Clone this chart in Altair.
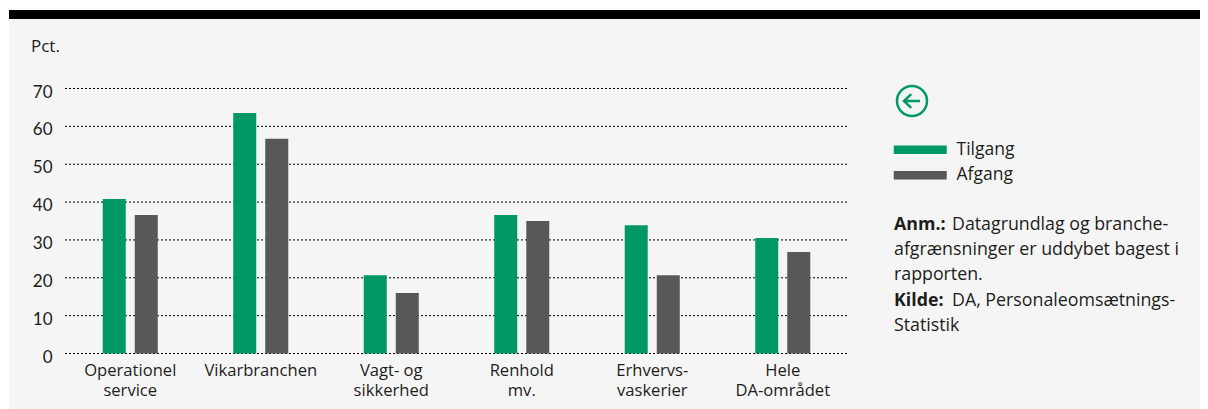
import altair as alt
import pandas as pd

categories = ["Operationel|service", "Vikarbranchen", "Vagt- og|sikkerhed", "Renhold|mv.", "Erhvervs-|vaskerier", "Hele|DA-området"]
tilgang = [40.8, 63.5, 20.7, 36.6, 33.9, 30.5]
afgang = [36.6, 56.7, 16.0, 35.0, 20.7, 26.8]
series = ["Tilgang", "Afgang"]
y_ticks = [0, 10, 20, 30, 40, 50, 60, 70]

GREEN, GREY, INK, FONT = "#009966", "#585857", "#1d1d1b", "Open Sans"
OX, OY = 9, 10  # page position of the view


def px(v):
    return alt.value(v - OX)


def py(v):
    return alt.value(v - OY)


df = pd.DataFrame(
    [{"cat": c, "serie": s, "v": v} for s, vals in zip(series, [tilgang, afgang]) for c, v in zip(categories, vals)]
)
yscale = alt.Scale(domain=[0, 70], range=[353.5 - OY, 88.5 - OY], nice=False)

grid = alt.Chart(pd.DataFrame({"v": y_ticks})).mark_rule(color="#000000", strokeDash=[2, 2], strokeWidth=1).encode(
    y=alt.Y("v:Q", scale=yscale, axis=alt.Axis(
        values=y_ticks, title=None, domain=False, ticks=False, grid=False, labelFont="Lato", labelFontSize=17,
        labelColor=INK, labelPadding=0, labelOffset=3.5, offset=-(52 - OX))),
    x=px(65), x2=px(847),
)

bars = alt.Chart(df).mark_bar(size=23).encode(
    x=alt.X("cat:N", sort=categories, scale=alt.Scale(domain=categories, range=[65 - OX, 848 - OX], paddingInner=0.578, paddingOuter=0.289),
            axis=alt.Axis(title=None, domain=False, ticks=False, labelAngle=0, labelFont=FONT, labelFontSize=16.6,
                          labelColor=INK, labelPadding=7, labelLineHeight=20.5, labelBaseline="top",
                          labelExpr="split(datum.label,'|')", offset=-(409 - 355))),
    xOffset=alt.XOffset("serie:N", sort=series, scale=alt.Scale(domain=series, paddingInner=0.281, paddingOuter=0)),
    y=alt.Y("v:Q", scale=yscale),
    color=alt.Color("serie:N", sort=series, scale=alt.Scale(domain=series, range=[GREEN, GREY]),
                    legend=alt.Legend(title=None, orient="none", legendX=892 - OX, legendY=141 - OY,
                                      symbolType="M-1,-0.62H6.57V0.62H-1Z", symbolSize=196, symbolStrokeWidth=0,
                                      labelFont=FONT, labelFontSize=17.5, labelColor=INK, labelOffset=47,
                                      rowPadding=6.5, symbolOpacity=1)),
)

top_bar = alt.Chart(pd.DataFrame({"a": [1]})).mark_rect(color="#000000").encode(
    x=px(9), x2=px(1200), y=py(10), y2=py(19))


def label(text, x, y, size=17.8, weight="normal", font=FONT):
    return alt.Chart(pd.DataFrame({"t": [text]})).mark_text(
        align="left", baseline="middle", font=font, fontSize=size, fontWeight=weight, color=INK
    ).encode(text="t:N", x=px(x), y=py(y))


notes = [
    label("Pct.", 31, 47, 17),
    label("Anm.:", 894, 225, 17.8, "bold"),
    label("Datagrundlag og branche-", 952, 225),
    label("afgrænsninger er uddybet bagest i", 894, 250),
    label("rapporten.", 894, 275),
    label("Kilde:", 894, 301, 17.8, "bold"),
    label("DA, Personaleomsætnings-", 952, 301),
    label("Statistik", 894, 326),
]

ring = alt.Chart(pd.DataFrame({"a": [1]})).mark_point(shape="circle", size=900, filled=False, color=GREEN, strokeWidth=2.5, opacity=1).encode(
    x=px(912), y=py(101))
arrow = alt.Chart(pd.DataFrame({"a": [1]})).mark_point(
    shape="M1,0H-1M-0.1,-0.85L-1,0L-0.1,0.85", size=256, filled=False, color=GREEN, strokeWidth=2.5, opacity=1
).encode(x=px(912), y=py(101))

chart = alt.layer(top_bar, grid, bars, ring, arrow, *notes).resolve_scale(y="shared").properties(
    width=1191, height=399,
    autosize=alt.AutoSizeParams(type="none"),
    padding={"left": 1, "top": 2, "right": 0, "bottom": 0},
    background="#ffffff",
).configure_view(fill="#f5f5f5", stroke=None)

chart.save("out.html", embed_options={"renderer": "svg", "actions": False})
